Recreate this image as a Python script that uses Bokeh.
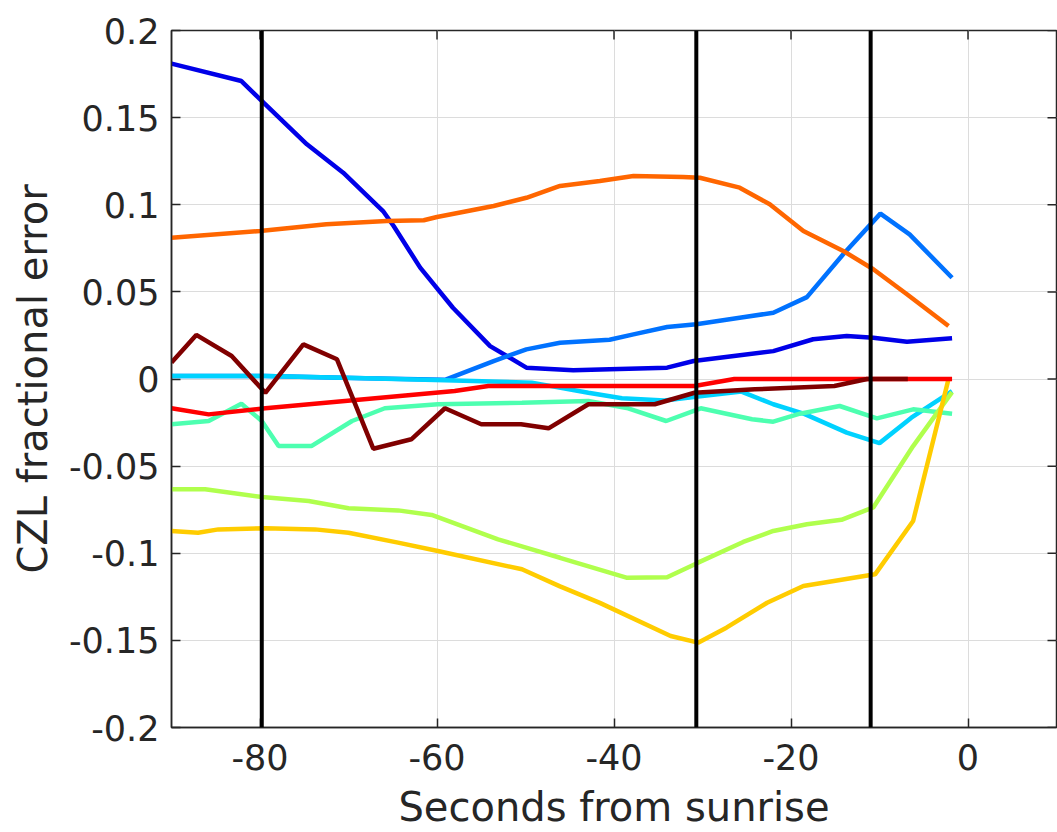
from bokeh.plotting import figure
from bokeh.models import Range1d, FixedTicker, Span
from bokeh.embed import file_html
from bokeh.resources import INLINE

# ---------------- data ----------------
blue_x = [-90, -82.1, -79.6, -74.7, -70.6, -66.1, -64.9, -61.9, -58.2, -54.0, -49.9, -44.6, -40.5,
          -34.0, -31.0, -26.0, -22.0, -17.5, -13.7, -10.7, -6.9, -1.8]
blue_y = [0.181, 0.171, 0.1586, 0.1347, 0.1184, 0.0964, 0.0878, 0.0639, 0.0409, 0.0189, 0.0065, 0.005,
          0.0056, 0.0065, 0.0103, 0.0135, 0.016, 0.0228, 0.0247, 0.0237, 0.0214, 0.0234]

azure_x = [-90, -79.4, -68.1, -59.1, -53.6, -49.9, -46.1, -40.5, -37.8, -34.0, -30.7, -25.8, -22.0,
           -18.2, -14.1, -9.9, -6.6, -1.8]
azure_y = [0.0017, 0.0017, 0.0004, -0.0005, 0.0103, 0.017, 0.0208, 0.0225, 0.0256, 0.0298, 0.0314,
           0.0352, 0.038, 0.047, 0.0716, 0.0949, 0.083, 0.0581]

cyan_x = [-90, -79.4, -68.1, -59.1, -49.3, -42.9, -39.1, -34.3, -30.5, -25.6, -22.0, -18.5, -13.7,
          -10.0, -6.4, -1.8]
cyan_y = [0.0017, 0.0017, 0.0004, -0.0007, -0.0021, -0.0079, -0.0111, -0.0124, -0.0100, -0.0072,
          -0.0145, -0.0200, -0.0308, -0.0368, -0.0222, -0.0069]

aqua_x = [-90, -85.8, -82.1, -79.8, -77.9, -74.2, -69.6, -65.9, -59.9, -50.4, -42.9, -38.4, -34.1,
          -30.2, -24.4, -22.0, -19.0, -14.5, -10.3, -6.2, -1.8]
aqua_y = [-0.026, -0.0241, -0.0142, -0.0241, -0.0385, -0.0385, -0.0241, -0.0168, -0.0145, -0.0136,
          -0.0126, -0.0168, -0.0241, -0.0168, -0.0231, -0.0245, -0.0199, -0.0155, -0.0226, -0.0174,
          -0.0199]

lime_x = [-90, -86.2, -79.8, -74.5, -70.0, -64.4, -60.6, -53.1, -46.1, -38.6, -34.0, -30.5, -25.4,
          -22.0, -18.2, -14.3, -10.7, -6.2, -1.8]
lime_y = [-0.0633, -0.0633, -0.0677, -0.0700, -0.0742, -0.0754, -0.0780, -0.0920, -0.1026, -0.1140,
          -0.1138, -0.1054, -0.0935, -0.0872, -0.0834, -0.0808, -0.0737, -0.0385, -0.0075]

gold_x = [-90, -87.0, -84.7, -79.4, -73.8, -70.0, -64.4, -59.9, -50.4, -46.1, -41.6, -33.6, -30.5,
          -27.3, -22.7, -18.6, -10.5, -6.2, -2.2]
gold_y = [-0.0872, -0.0882, -0.0863, -0.0857, -0.0863, -0.0882, -0.0939, -0.0987, -0.1092, -0.1190,
          -0.1285, -0.1475, -0.1513, -0.1427, -0.1284, -0.1188, -0.1121, -0.0815, 0.0]

orange_x = [-90, -80.0, -72.5, -65.7, -61.5, -60.0, -53.6, -49.9, -46.1, -41.6, -37.8, -32.2, -30.3,
            -25.8, -22.4, -18.6, -14.1, -10.7, -6.9, -2.2]
orange_y = [0.0811, 0.0849, 0.0888, 0.0907, 0.0911, 0.093, 0.0993, 0.104, 0.1108, 0.1136, 0.1165,
            0.1159, 0.1155, 0.1098, 0.1003, 0.0849, 0.0735, 0.063, 0.0486, 0.0304]

red_x = [-90, -85.8, -79.4, -58.0, -54.2, -30.9, -26.4, -1.8]
red_y = [-0.0168, -0.0203, -0.0168, -0.0069, -0.004, -0.004, 0.0, 0.0]

darkred_x = [-90, -87.2, -83.2, -79.4, -75.1, -71.3, -67.2, -62.9, -59.1, -55.0, -50.5, -47.4, -42.9,
             -35.4, -30.9, -24.1, -15.1, -11.4, -6.8]
darkred_y = [0.0094, 0.0253, 0.0132, -0.0079, 0.0199, 0.0113, -0.040, -0.0346, -0.0168, -0.026,
             -0.026, -0.0283, -0.0145, -0.0145, -0.0079, -0.0059, -0.004, 0.0, 0.0]

event_x = [-79.8, -30.7, -11.0]

x_ticks = [-80, -60, -40, -20, 0]
x_tick_labels = ["-80", "-60", "-40", "-20", "0"]
y_ticks = [-0.2, -0.15, -0.1, -0.05, 0, 0.05, 0.1, 0.15, 0.2]
y_tick_labels = ["-0.2", "-0.15", "-0.1", "-0.05", "0", "0.05", "0.1", "0.15", "0.2"]

series = [
    (blue_x, blue_y, "#0000E8"),
    (azure_x, azure_y, "#0072FF"),
    (cyan_x, cyan_y, "#00D2FF"),
    (aqua_x, aqua_y, "#4DFFB0"),
    (lime_x, lime_y, "#B0FF4D"),
    (gold_x, gold_y, "#FFCC00"),
    (orange_x, orange_y, "#FF6600"),
    (red_x, red_y, "#FF0000"),
    (darkred_x, darkred_y, "#800000"),
]

TXT = "#262626"
FONT = "DejaVu Sans"
X0, X1, Y0, Y1 = -90, 10, -0.2, 0.2
FRAME_W, FRAME_H = 885, 697
TICK_PX = 9

p = figure(width=1057, height=832, x_range=Range1d(X0, X1), y_range=Range1d(Y0, Y1),
           output_backend="svg", toolbar_location=None,
           min_border_left=171, min_border_right=1, min_border_top=30, min_border_bottom=105)
p.background_fill_color = "white"
p.border_fill_color = "white"
p.outline_line_color = TXT
p.outline_line_width = 1.5

xt = FixedTicker(ticks=x_ticks, minor_ticks=[])
yt = FixedTicker(ticks=y_ticks, minor_ticks=[])

for ax in p.xaxis:
    ax.ticker = xt
    ax.major_label_overrides = {t: s for t, s in zip(x_ticks, x_tick_labels)}
for ax in p.yaxis:
    ax.ticker = yt
    ax.major_label_overrides = {t: s for t, s in zip(y_ticks, y_tick_labels)}

for ax in list(p.xaxis) + list(p.yaxis):
    ax.axis_line_color = TXT
    ax.axis_line_width = 1.5
    ax.major_tick_in = TICK_PX
    ax.major_tick_out = 0
    ax.major_tick_line_color = TXT
    ax.major_tick_line_width = 1.5
    ax.minor_tick_line_color = None
    ax.major_label_text_font = FONT
    ax.major_label_text_font_size = "35px"
    ax.major_label_text_color = TXT
    ax.axis_label_text_font = FONT
    ax.axis_label_text_font_size = "40px"
    ax.axis_label_text_font_style = "normal"
    ax.axis_label_text_color = TXT

p.xaxis.axis_label = "Seconds from sunrise"
p.yaxis.axis_label = "CZL fractional error"
p.xaxis.major_label_standoff = 16
p.xaxis.axis_label_standoff = 11
p.yaxis.major_label_standoff = 12
p.yaxis.axis_label_standoff = 10

p.xgrid.ticker = xt
p.ygrid.ticker = yt
for g in (p.xgrid, p.ygrid):
    g.grid_line_color = "#DCDCDC"
    g.grid_line_width = 1

# inward tick marks on the top and right edges of the box
dy = TICK_PX * (Y1 - Y0) / FRAME_H
dx = TICK_PX * (X1 - X0) / FRAME_W
p.segment(x0=x_ticks, y0=[Y1] * len(x_ticks), x1=x_ticks, y1=[Y1 - dy] * len(x_ticks),
          line_color=TXT, line_width=1.5)
p.segment(x0=[X1] * len(y_ticks), y0=y_ticks, x1=[X1 - dx] * len(y_ticks), y1=y_ticks,
          line_color=TXT, line_width=1.5)

for xs, ys, c in series:
    p.line(xs, ys, line_color=c, line_width=4.5)

for ex in event_x:
    p.add_layout(Span(location=ex, dimension="height", line_color="black", line_width=4))

open("out.html", "w").write(file_html(p, INLINE))
